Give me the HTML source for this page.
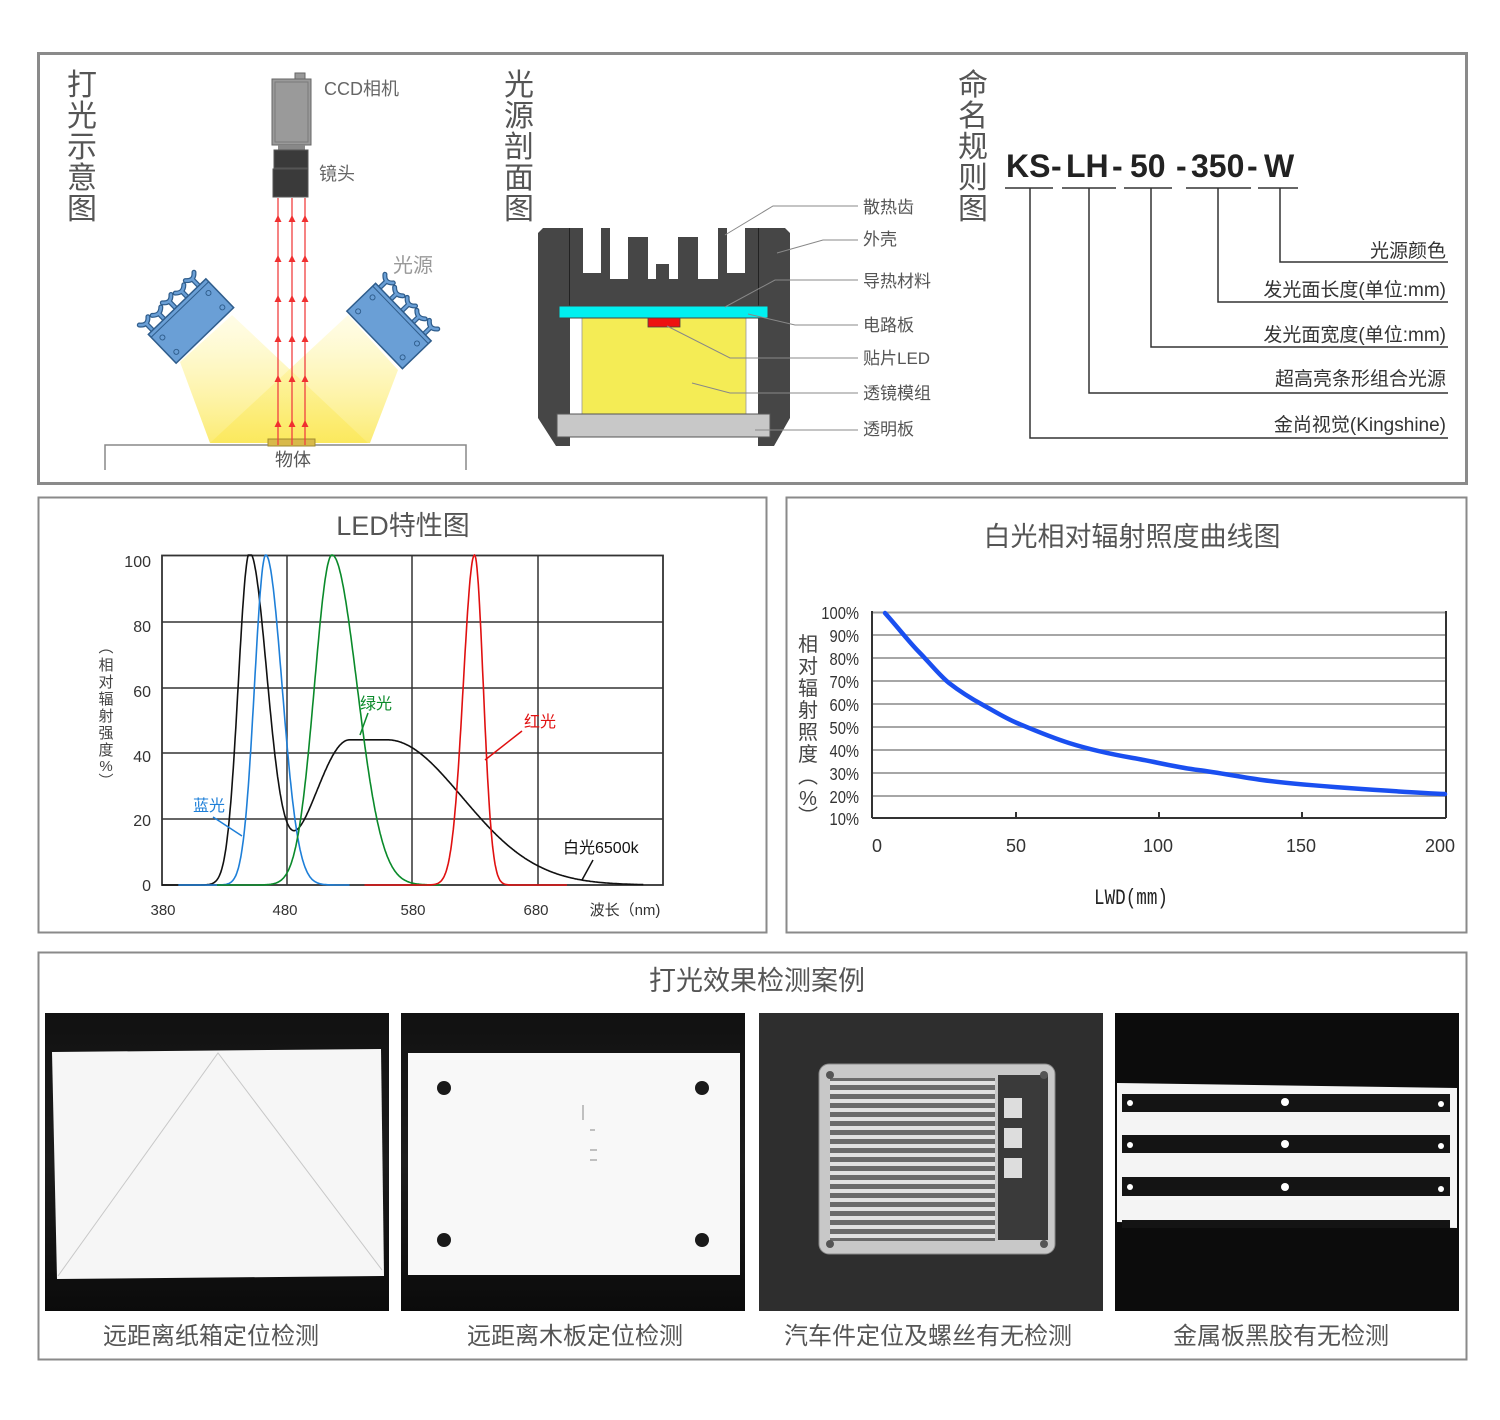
<!DOCTYPE html>
<html><head><meta charset="utf-8">
<style>
html,body{margin:0;padding:0;background:#fff;}
svg{display:block;font-family:"Liberation Sans","Noto Sans CJK SC",sans-serif;}
</style></head>
<body>
<svg id="s" width="1500" height="1420" viewBox="0 0 1500 1420" xmlns="http://www.w3.org/2000/svg">
<defs>
<linearGradient id="beamL" x1="0" y1="0" x2="0" y2="1"><stop offset="0" stop-color="#fff7b0" stop-opacity="0.3"/><stop offset="1" stop-color="#fbe85a" stop-opacity="0.85"/></linearGradient>
<linearGradient id="p1" x1="0" y1="0" x2="0" y2="1"><stop offset="0" stop-color="#111"/><stop offset="0.5" stop-color="#1c1c1c"/><stop offset="1" stop-color="#0b0b0b"/></linearGradient>
<pattern id="fins" width="8" height="9" patternUnits="userSpaceOnUse"><rect width="8" height="9" fill="#6a6a6a"/><rect y="1" width="8" height="4" fill="#e0e0e0"/></pattern>
</defs>

<rect x="38.5" y="53.5" width="1428" height="430" fill="none" stroke="#8a8a8a" stroke-width="3"/>
<rect x="38.5" y="497.5" width="728" height="435" fill="none" stroke="#8a8a8a" stroke-width="2"/>
<rect x="786.5" y="497.5" width="680" height="435" fill="none" stroke="#8a8a8a" stroke-width="2"/>
<rect x="38.5" y="952.5" width="1428" height="407" fill="none" stroke="#8a8a8a" stroke-width="2"/>

<g font-size="30" fill="#555" text-anchor="middle">
<text x="82" y="95">打</text><text x="82" y="126">光</text><text x="82" y="157">示</text><text x="82" y="188">意</text><text x="82" y="219">图</text>
<text x="519" y="95">光</text><text x="519" y="126">源</text><text x="519" y="157">剖</text><text x="519" y="188">面</text><text x="519" y="219">图</text>
<text x="973" y="95">命</text><text x="973" y="126">名</text><text x="973" y="157">规</text><text x="973" y="188">则</text><text x="973" y="219">图</text>
</g>

<polygon points="180,362 232,315 368,443 210,443" fill="url(#beamL)"/>
<polygon points="348,315 398,370 370,443 210,443" fill="url(#beamL)"/>
<polyline points="105,470 105,445 466,445 466,470" fill="none" stroke="#888" stroke-width="1.5"/>
<rect x="268" y="439" width="47" height="7" fill="#d8b94a" stroke="#a08a30"/>
<text x="293" y="466" font-size="18" fill="#555" text-anchor="middle">物体</text>
<rect x="295" y="73" width="10" height="6" fill="#999" stroke="#666"/>
<rect x="272" y="79" width="39" height="66" fill="#9a9a9a" stroke="#666"/>
<rect x="275" y="82" width="33" height="60" fill="none" stroke="#7a7a7a"/>
<rect x="278" y="145" width="27" height="5" fill="#888"/>
<rect x="274" y="150" width="34" height="18" fill="#3a3a3a" stroke="#555"/>
<rect x="273" y="169" width="35" height="28" fill="#3a3a3a" stroke="#555"/>
<text x="324" y="95" font-size="18" fill="#666">CCD相机</text>
<text x="319" y="180" font-size="18" fill="#666">镜头</text>
<text x="393" y="272" font-size="20" fill="#999">光源</text>
<g stroke="#f04040" stroke-width="1.3">
<line x1="278" y1="198" x2="278" y2="445"/><line x1="292" y1="198" x2="292" y2="445"/><line x1="305" y1="198" x2="305" y2="445"/>
</g>
<g fill="#f03030" id="arrows"></g>
<g transform="translate(191,321) rotate(-44)">
<g stroke="#2f5d8c" stroke-width="5" fill="none" stroke-linecap="round"><path d="M-34,-20 L-34,-28 M-40,-33 Q-34,-26 -28,-33 M-18,-20 L-18,-27 M-24,-31 Q-18,-25 -12,-31 M-2,-20 L-2,-28 M-8,-33 Q-2,-26 4,-33 M14,-20 L14,-27 M8,-31 Q14,-25 20,-31 M30,-20 L30,-28 M24,-33 Q30,-26 36,-33"/></g>
<g stroke="#6a9fd6" stroke-width="2.5" fill="none" stroke-linecap="round"><path d="M-34,-20 L-34,-28 M-40,-33 Q-34,-26 -28,-33 M-18,-20 L-18,-27 M-24,-31 Q-18,-25 -12,-31 M-2,-20 L-2,-28 M-8,-33 Q-2,-26 4,-33 M14,-20 L14,-27 M8,-31 Q14,-25 20,-31 M30,-20 L30,-28 M24,-33 Q30,-26 36,-33"/></g>
<rect x="-40" y="-20" width="80" height="40" fill="#6a9fd6" stroke="#2f5d8c" stroke-width="1.5"/>
<line x1="-40" y1="-16" x2="40" y2="-16" stroke="#2f5d8c"/>
<circle cx="-32" cy="-8" r="2.5" fill="none" stroke="#2f5d8c"/><circle cx="32" cy="-8" r="2.5" fill="none" stroke="#2f5d8c"/><circle cx="-32" cy="12" r="2.5" fill="none" stroke="#2f5d8c"/><circle cx="32" cy="12" r="2.5" fill="none" stroke="#2f5d8c"/>
</g>
<g transform="translate(389,326) rotate(46)">
<g stroke="#2f5d8c" stroke-width="5" fill="none" stroke-linecap="round"><path d="M-34,-20 L-34,-28 M-40,-33 Q-34,-26 -28,-33 M-18,-20 L-18,-27 M-24,-31 Q-18,-25 -12,-31 M-2,-20 L-2,-28 M-8,-33 Q-2,-26 4,-33 M14,-20 L14,-27 M8,-31 Q14,-25 20,-31 M30,-20 L30,-28 M24,-33 Q30,-26 36,-33"/></g>
<g stroke="#6a9fd6" stroke-width="2.5" fill="none" stroke-linecap="round"><path d="M-34,-20 L-34,-28 M-40,-33 Q-34,-26 -28,-33 M-18,-20 L-18,-27 M-24,-31 Q-18,-25 -12,-31 M-2,-20 L-2,-28 M-8,-33 Q-2,-26 4,-33 M14,-20 L14,-27 M8,-31 Q14,-25 20,-31 M30,-20 L30,-28 M24,-33 Q30,-26 36,-33"/></g>
<rect x="-40" y="-20" width="80" height="40" fill="#6a9fd6" stroke="#2f5d8c" stroke-width="1.5"/>
<line x1="-40" y1="-16" x2="40" y2="-16" stroke="#2f5d8c"/>
<circle cx="-32" cy="-8" r="2.5" fill="none" stroke="#2f5d8c"/><circle cx="32" cy="-8" r="2.5" fill="none" stroke="#2f5d8c"/><circle cx="-32" cy="12" r="2.5" fill="none" stroke="#2f5d8c"/><circle cx="32" cy="12" r="2.5" fill="none" stroke="#2f5d8c"/>
</g>

<polygon points="543,228 785,228 790,233 790,418 774,446 758,446 758,306 570,306 570,446 556,446 538,418 538,233" fill="#464646"/>
<rect x="569" y="228" width="190" height="78" fill="#464646"/>
<line x1="569.5" y1="228" x2="569.5" y2="306" stroke="#222"/><line x1="758.5" y1="228" x2="758.5" y2="306" stroke="#222"/>
<g fill="#fff">
<rect x="583" y="228" width="18" height="45"/>
<rect x="610" y="228" width="18" height="51"/>
<rect x="628" y="228" width="20" height="9"/>
<rect x="648" y="228" width="8" height="51"/>
<rect x="656" y="228" width="13" height="36"/>
<rect x="669" y="228" width="9" height="51"/>
<rect x="678" y="228" width="20" height="9"/>
<rect x="698" y="228" width="20" height="51"/>
<rect x="727" y="228" width="18" height="45"/>
</g>
<rect x="570" y="318" width="188" height="97" fill="#fff"/>
<rect x="582" y="318" width="164" height="97" fill="#f4ec55" stroke="#999" stroke-width="0.8"/>
<rect x="559" y="306" width="209" height="12" fill="#00f0f0" stroke="#444"/>
<rect x="648" y="318" width="32" height="9" fill="#ee1111" stroke="#444" stroke-width="0.8"/>
<rect x="557" y="414" width="213" height="23" fill="#c8c8c8" stroke="#555"/>
<g stroke="#888" stroke-width="1" fill="none">
<polyline points="725,235 773,206 858,206"/>
<polyline points="777,253 823,240 858,240"/>
<polyline points="725,307 775,280 858,280"/>
<polyline points="748,314 795,325 858,325"/>
<polyline points="667,326 730,358 858,358"/>
<polyline points="692,383 730,393 858,393"/>
<polyline points="755,430 858,430"/>
</g>
<g font-size="17" fill="#555">
<text x="863" y="213">散热齿</text><text x="863" y="245">外壳</text><text x="863" y="287">导热材料</text><text x="863" y="331">电路板</text><text x="863" y="364">贴片LED</text><text x="863" y="399">透镜模组</text><text x="863" y="435">透明板</text>
</g>

<g font-size="32" font-weight="bold" fill="#222">
<text x="1006" y="177">KS</text><text x="1051" y="177">-</text><text x="1066" y="177">LH</text><text x="1112" y="177">-</text><text x="1130" y="177">50</text><text x="1176" y="177">-</text><text x="1191" y="177">350</text><text x="1247" y="177">-</text><text x="1264" y="177">W</text>
</g>
<g stroke="#333" stroke-width="1.5" fill="none">
<line x1="1005" y1="188" x2="1053" y2="188"/><line x1="1062" y1="188" x2="1116" y2="188"/><line x1="1124" y1="188" x2="1172" y2="188"/><line x1="1186" y1="188" x2="1251" y2="188"/><line x1="1258" y1="188" x2="1298" y2="188"/>
<polyline points="1030,188 1030,438 1448,438"/>
<polyline points="1089,188 1089,393 1448,393"/>
<polyline points="1151,188 1151,347 1448,347"/>
<polyline points="1218,188 1218,302 1448,302"/>
<polyline points="1280,188 1280,262 1448,262"/>
</g>
<g font-size="19" fill="#333" text-anchor="end">
<text x="1446" y="257">光源颜色</text><text x="1446" y="296">发光面长度(单位:mm)</text><text x="1446" y="341">发光面宽度(单位:mm)</text><text x="1446" y="385">超高亮条形组合光源</text><text x="1446" y="431">金尚视觉(Kingshine)</text>
</g>

<text x="403" y="535" font-size="27" fill="#555" text-anchor="middle">LED特性图</text>
<g stroke="#333" stroke-width="1.5">
<line x1="162" y1="622" x2="663" y2="622"/><line x1="162" y1="688" x2="663" y2="688"/><line x1="162" y1="753" x2="663" y2="753"/><line x1="162" y1="819" x2="663" y2="819"/>
<line x1="287" y1="555" x2="287" y2="885"/><line x1="412" y1="555" x2="412" y2="885"/><line x1="538" y1="555" x2="538" y2="885"/>
</g>
<rect x="162" y="555.5" width="501" height="329.5" fill="none" stroke="#333" stroke-width="1.8"/>
<g font-size="16" fill="#333" text-anchor="end">
<text x="151" y="567">100</text><text x="151" y="632">80</text><text x="151" y="697">60</text><text x="151" y="762">40</text><text x="151" y="826">20</text><text x="151" y="891">0</text>
</g>
<g font-size="15" fill="#333" text-anchor="middle">
<text x="163" y="915">380</text><text x="285" y="915">480</text><text x="413" y="915">580</text><text x="536" y="915">680</text><text x="625" y="915">波长（nm)</text>
</g>
<g font-size="15" fill="#444" text-anchor="middle">
<text x="106" y="652">︵</text><text x="106" y="670">相</text><text x="106" y="687">对</text><text x="106" y="704">辐</text><text x="106" y="721">射</text><text x="106" y="738">强</text><text x="106" y="755">度</text><text x="106" y="771">%</text><text x="106" y="786">︶</text>
</g>
<g id="curves" fill="none" stroke-width="1.6"></g>
<text x="193" y="811" font-size="16" fill="#1e7fd8">蓝光</text><line x1="213" y1="817" x2="242" y2="836" stroke="#1e7fd8" stroke-width="1.5"/>
<text x="360" y="709" font-size="16" fill="#0a8a2a">绿光</text><line x1="368" y1="713" x2="360" y2="735" stroke="#0a8a2a" stroke-width="1.5"/>
<text x="524" y="727" font-size="16" fill="#e01010">红光</text><line x1="522" y1="731" x2="485" y2="760" stroke="#e01010" stroke-width="1.5"/>
<text x="563" y="853" font-size="16" fill="#111">白光6500k</text><line x1="593" y1="860" x2="582" y2="880" stroke="#111" stroke-width="1.5"/>

<text x="1132" y="546" font-size="27" fill="#555" text-anchor="middle">白光相对辐射照度曲线图</text>
<g stroke="#999" stroke-width="1.8">
<line x1="873" y1="635" x2="1446" y2="635"/><line x1="873" y1="658" x2="1446" y2="658"/><line x1="873" y1="681" x2="1446" y2="681"/><line x1="873" y1="704" x2="1446" y2="704"/><line x1="873" y1="727" x2="1446" y2="727"/><line x1="873" y1="750" x2="1446" y2="750"/><line x1="873" y1="773" x2="1446" y2="773"/><line x1="873" y1="796" x2="1446" y2="796"/>
</g>
<line x1="873" y1="612.5" x2="1446" y2="612.5" stroke="#999" stroke-width="2"/>
<g stroke="#333" stroke-width="2">
<line x1="872" y1="611" x2="872" y2="818"/><line x1="1446" y1="611" x2="1446" y2="818"/><line x1="872" y1="818" x2="1446" y2="818"/>
<line x1="1016" y1="812" x2="1016" y2="818"/><line x1="1159" y1="812" x2="1159" y2="818"/><line x1="1302" y1="812" x2="1302" y2="818"/>
</g>
<g font-size="18" fill="#333" text-anchor="end" transform="translate(859,0) scale(0.82,1)">
<text x="0" y="619">100%</text><text x="0" y="642">90%</text><text x="0" y="665">80%</text><text x="0" y="688">70%</text><text x="0" y="711">60%</text><text x="0" y="734">50%</text><text x="0" y="757">40%</text><text x="0" y="780">30%</text><text x="0" y="803">20%</text><text x="0" y="825">10%</text>
</g>
<g font-size="18" fill="#333" text-anchor="middle">
<text x="877" y="852">0</text><text x="1016" y="852">50</text><text x="1158" y="852">100</text><text x="1301" y="852">150</text><text x="1440" y="852">200</text>
</g>
<text x="1131" y="904" font-size="22" fill="#222" text-anchor="middle" font-family="Liberation Mono,monospace" transform="translate(1131,0) scale(0.8,1) translate(-1131,0)">LWD(mm)</text>
<g font-size="20" fill="#444" text-anchor="middle">
<text x="808" y="651">相</text><text x="808" y="673">对</text><text x="808" y="695">辐</text><text x="808" y="717">射</text><text x="808" y="739">照</text><text x="808" y="761">度</text><text x="808" y="783">︵</text><text x="808" y="805">%</text><text x="808" y="823">︶</text>
</g>
<path d="M885,613 C900,630 910,643 919,652 S940,676 949,683 S972,699 983,705 S1005,718 1017,723 S1050,737 1069,743 S1110,754 1133,758 S1175,767 1198,770 S1240,777 1262,780 S1320,786 1348,788 S1420,793 1445,794" fill="none" stroke="#1a4ff0" stroke-width="4.5" stroke-linecap="round"/>

<text x="757" y="990" font-size="27" fill="#555" text-anchor="middle">打光效果检测案例</text>
<rect x="45" y="1013" width="344" height="298" fill="url(#p1)"/>
<polygon points="52,1052 381,1049 384,1276 57,1279" fill="#f6f6f6"/>
<polyline points="58,1276 218,1053 382,1270" fill="none" stroke="#c8c8c8" stroke-width="1"/>
<rect x="401" y="1013" width="344" height="298" fill="url(#p1)"/>
<rect x="408" y="1053" width="332" height="222" fill="#f8f8f8"/>
<g fill="#1a1a1a"><circle cx="444" cy="1088" r="7"/><circle cx="702" cy="1088" r="7"/><circle cx="444" cy="1240" r="7"/><circle cx="702" cy="1240" r="7"/></g>
<g stroke="#888" stroke-width="1"><line x1="583" y1="1105" x2="583" y2="1120"/><line x1="590" y1="1130" x2="595" y2="1130"/><line x1="590" y1="1150" x2="597" y2="1150"/><line x1="590" y1="1160" x2="597" y2="1160"/></g>
<rect x="759" y="1013" width="344" height="298" fill="#2e2e2e"/>
<rect x="819" y="1064" width="236" height="190" rx="10" fill="#c8c8c8" stroke="#888"/>
<rect x="830" y="1078" width="165" height="163" fill="url(#fins)"/>
<rect x="998" y="1075" width="50" height="165" fill="#3a3a3a"/>
<g fill="#ddd"><rect x="1004" y="1098" width="18" height="20"/><rect x="1004" y="1128" width="18" height="20"/><rect x="1004" y="1158" width="18" height="20"/></g>
<g fill="#555"><circle cx="830" cy="1075" r="4"/><circle cx="1044" cy="1075" r="4"/><circle cx="830" cy="1244" r="4"/><circle cx="1044" cy="1244" r="4"/></g>
<rect x="1115" y="1013" width="344" height="298" fill="#0c0c0c"/>
<polygon points="1117,1083 1457,1088 1457,1228 1117,1222" fill="#f4f4f4"/>
<g fill="#141414"><rect x="1122" y="1094" width="328" height="18"/><rect x="1122" y="1135" width="328" height="18"/><rect x="1122" y="1177" width="328" height="19"/><rect x="1122" y="1220" width="328" height="8"/></g>
<g fill="#fff"><circle cx="1285" cy="1102" r="4"/><circle cx="1285" cy="1144" r="4"/><circle cx="1285" cy="1187" r="4"/><circle cx="1130" cy="1103" r="3"/><circle cx="1130" cy="1145" r="3"/><circle cx="1130" cy="1187" r="3"/><circle cx="1441" cy="1104" r="3"/><circle cx="1441" cy="1146" r="3"/><circle cx="1441" cy="1189" r="3"/></g>
<g font-size="24" fill="#555" text-anchor="middle">
<text x="211" y="1344">远距离纸箱定位检测</text><text x="575" y="1344">远距离木板定位检测</text><text x="928" y="1344">汽车件定位及螺丝有无检测</text><text x="1281" y="1344">金属板黑胶有无检测</text>
</g>
</svg>
<script>
(function(){
var NS="http://www.w3.org/2000/svg";
var ar=document.getElementById("arrows");
[215,255,295,335,375,420].forEach(function(y){[278,292,305].forEach(function(x){
 var p=document.createElementNS(NS,"polygon");p.setAttribute("points",(x-3.5)+","+(y+7)+" "+x+","+y+" "+(x+3.5)+","+(y+7));ar.appendChild(p);});});
function X(l){return 162+(l-380)*1.25;}
function Y(v){return 885-3.3*v;}
function g(l,m,sl,sr){var s=l<m?sl:sr;var d=(l-m)/s;return Math.exp(-d*d/2);}
function broad(l){var v;if(l<530){var d=(l-530)/28;v=44*Math.exp(-d*d/2);}else if(l<560){v=44;}else{var d2=(l-560)/60;v=44*Math.exp(-d2*d2/2);}return v;}
function path(f,a,b,col){var d="";for(var l=a;l<=b;l+=0.5){d+=(l==a?"M":"L")+X(l).toFixed(1)+","+Y(Math.min(100,f(l))).toFixed(1);}
 var p=document.createElementNS(NS,"path");p.setAttribute("d",d);p.setAttribute("stroke",col);document.getElementById("curves").appendChild(p);}
path(function(l){return 100*g(l,450,9,14)+broad(l);},380,765,"#111");
path(function(l){return 100*g(l,463,9,13);},393,530,"#1e7fd8");
path(function(l){return 100*g(l,516,14,20);},424,603,"#0a8a2a");
path(function(l){return 100*g(l,630,9,7);},542,704,"#e01010");
})();
</script>
</body></html>
